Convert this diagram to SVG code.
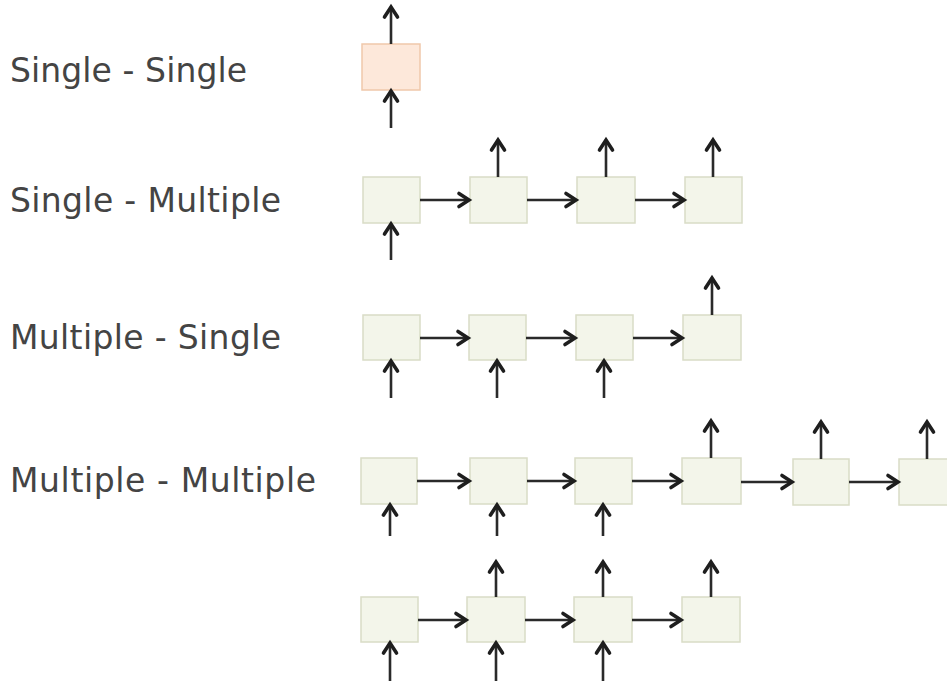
<svg xmlns="http://www.w3.org/2000/svg" width="947" height="681" viewBox="0 0 947 681">
<defs>
<marker id="ah" markerUnits="userSpaceOnUse" markerWidth="18" markerHeight="18" refX="12" refY="7.5" orient="auto" overflow="visible">
<path d="M2,1 L12,7.5 L2,14" fill="none" stroke="#1e1e1e" stroke-width="3.6" stroke-linecap="round" stroke-linejoin="miter"/>
</marker>
<style>
.lbl{font-family:"DejaVu Sans","Liberation Sans",sans-serif;font-size:33px;fill:#444}
.b{fill:#f3f5ea;stroke:#d9dcc6;stroke-width:1.5}
.o{fill:#fde8da;stroke:#efc8aa;stroke-width:1.5}
.c line{stroke:#2a2a2a;stroke-width:2.6;marker-end:url(#ah)}
</style>
</defs>
<rect width="947" height="681" fill="#fff"/>
<g id="labels">
<text class="lbl" x="10" y="82" textLength="237" lengthAdjust="spacing">Single - Single</text>
<text class="lbl" x="10" y="212" textLength="271" lengthAdjust="spacing">Single - Multiple</text>
<text class="lbl" x="10" y="349" textLength="271" lengthAdjust="spacing">Multiple - Single</text>
<text class="lbl" x="10" y="492" textLength="306" lengthAdjust="spacing">Multiple - Multiple</text>
</g>
<g id="row1"><rect id="n1" class="o" x="362" y="44" width="58" height="46"/></g>
<g id="row2">
<rect id="n2a" class="b" x="363" y="177" width="57" height="46"/>
<rect id="n2b" class="b" x="470" y="177" width="57" height="46"/>
<rect id="n2c" class="b" x="577" y="177" width="58" height="46"/>
<rect id="n2d" class="b" x="685" y="177" width="57" height="46"/>
</g>
<g id="row3">
<rect id="n3a" class="b" x="363" y="315" width="57" height="45"/>
<rect id="n3b" class="b" x="469" y="315" width="57" height="45"/>
<rect id="n3c" class="b" x="576" y="315" width="57" height="45"/>
<rect id="n3d" class="b" x="683" y="315" width="58" height="45"/>
</g>
<g id="row4">
<rect id="n4a" class="b" x="361" y="458" width="56" height="46"/>
<rect id="n4b" class="b" x="470" y="458" width="57" height="46"/>
<rect id="n4c" class="b" x="575" y="458" width="57" height="46"/>
<rect id="n4d" class="b" x="682" y="458" width="59" height="46"/>
<rect id="n4e" class="b" x="793" y="459" width="56" height="46"/>
<rect id="n4f" class="b" x="899" y="459" width="57" height="46"/>
</g>
<g id="row5">
<rect id="n5a" class="b" x="361" y="597" width="57" height="45"/>
<rect id="n5b" class="b" x="467" y="597" width="58" height="45"/>
<rect id="n5c" class="b" x="574" y="597" width="58" height="45"/>
<rect id="n5d" class="b" x="682" y="597" width="58" height="45"/>
</g>
<g id="connectors" class="c">
<line x1="391" y1="44" x2="391" y2="7"/>
<line x1="391" y1="128" x2="391" y2="91"/>

<line x1="420" y1="200" x2="469" y2="200"/>
<line x1="527" y1="200" x2="576" y2="200"/>
<line x1="635" y1="200" x2="684" y2="200"/>
<line x1="498" y1="177" x2="498" y2="140"/>
<line x1="606" y1="177" x2="606" y2="140"/>
<line x1="713" y1="177" x2="713" y2="140"/>
<line x1="391" y1="260" x2="391" y2="224"/>

<line x1="420" y1="338" x2="468" y2="338"/>
<line x1="526" y1="338" x2="575" y2="338"/>
<line x1="633" y1="338" x2="682" y2="338"/>
<line x1="712" y1="315" x2="712" y2="278"/>
<line x1="391" y1="398" x2="391" y2="361"/>
<line x1="497" y1="398" x2="497" y2="361"/>
<line x1="604" y1="398" x2="604" y2="361"/>

<line x1="417" y1="481" x2="469" y2="481"/>
<line x1="527" y1="481" x2="574" y2="481"/>
<line x1="632" y1="481" x2="681" y2="481"/>
<line x1="741" y1="482" x2="792" y2="482"/>
<line x1="849" y1="482" x2="898" y2="482"/>
<line x1="711" y1="458" x2="711" y2="421"/>
<line x1="821" y1="459" x2="821" y2="422"/>
<line x1="927" y1="459" x2="927" y2="422"/>
<line x1="390" y1="536" x2="390" y2="505"/>
<line x1="497" y1="536" x2="497" y2="505"/>
<line x1="603" y1="536" x2="603" y2="505"/>

<line x1="418" y1="620" x2="466" y2="620"/>
<line x1="525" y1="620" x2="573" y2="620"/>
<line x1="632" y1="620" x2="681" y2="620"/>
<line x1="496" y1="597" x2="496" y2="562"/>
<line x1="603" y1="597" x2="603" y2="562"/>
<line x1="711" y1="597" x2="711" y2="562"/>
<line x1="390" y1="681" x2="390" y2="643"/>
<line x1="496" y1="681" x2="496" y2="643"/>
<line x1="603" y1="681" x2="603" y2="643"/>
</g>
</svg>
